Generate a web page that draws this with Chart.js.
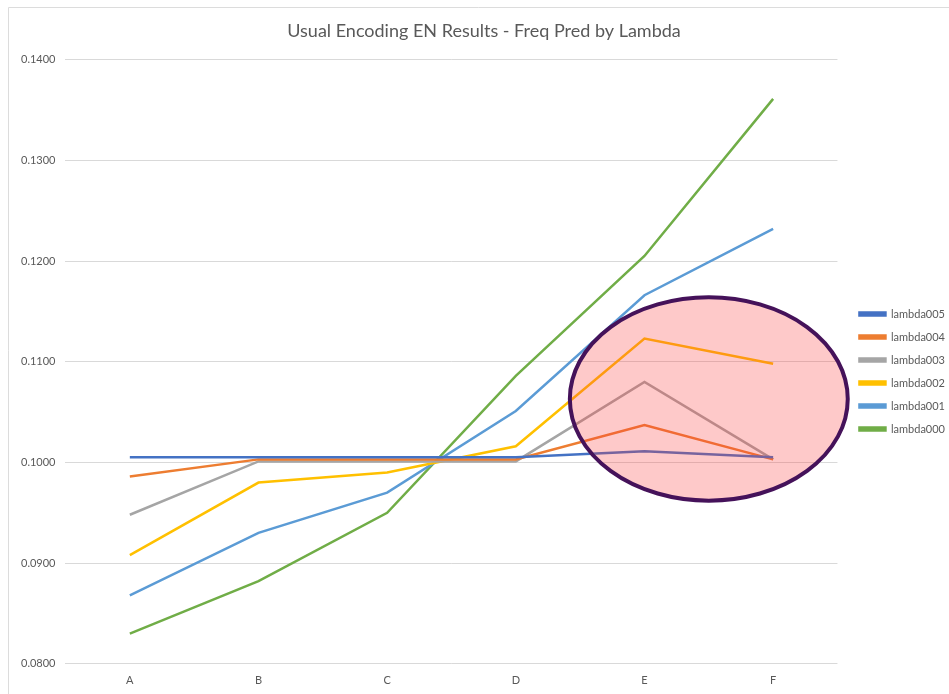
<!DOCTYPE html>
<html>
<head>
<meta charset="utf-8">
<title>Usual Encoding EN Results - Freq Pred by Lambda</title>
<script src="https://cdn.jsdelivr.net/npm/chart.js@4.4.1/dist/chart.umd.min.js"></script>
<style>
  html, body { margin: 0; padding: 0; background: #fff; }
  #wrap { position: relative; width: 949px; height: 694px; }
</style>
</head>
<body>
<div id="wrap"><canvas id="my-chart" width="949" height="694"></canvas></div>
<script>
"use strict";

const categories = ["A", "B", "C", "D", "E", "F"];
const seriesNames = ["lambda005", "lambda004", "lambda003", "lambda002", "lambda001", "lambda000"];
const seriesColors = ["#4472C4", "#ED7D31", "#A5A5A5", "#FFC000", "#5B9BD5", "#70AD47"];

const lambda005 = [0.1005, 0.1005, 0.1005, 0.1005, 0.1011, 0.1005];
const lambda004 = [0.0986, 0.1003, 0.1003, 0.1003, 0.1037, 0.1003];
const lambda003 = [0.0948, 0.1001, 0.1001, 0.1001, 0.1080, 0.1003];
const lambda002 = [0.0908, 0.0980, 0.0990, 0.1016, 0.1123, 0.1098];
const lambda001 = [0.0868, 0.0930, 0.0970, 0.1051, 0.1166, 0.1232];
const lambda000 = [0.0830, 0.0882, 0.0950, 0.1086, 0.1205, 0.1361];

const yTicks = [0.08, 0.09, 0.10, 0.11, 0.12, 0.13, 0.14];

// highlight ellipse, in data units (x = category index, y = value)
const highlight = { x: 4.5, y: 0.1063, rx: 1.08, ry: 0.0101 };

const allSeries = [lambda005, lambda004, lambda003, lambda002, lambda001, lambda000];

const datasets = [];
for (let i = 0; i < allSeries.length; i++) {
  datasets.push({
    label: seriesNames[i],
    data: allSeries[i],
    borderColor: seriesColors[i],
    backgroundColor: seriesColors[i],
    borderWidth: 2.5,
    pointRadius: 0,
    tension: 0
  });
}

// white background and the thin frame of the pasted chart
const framePlugin = {
  id: "frame",
  afterLayout(chart) {
    // excel leaves a wider gap between plot and legend, and centres lower
    const lg = chart.legend;
    lg.left += 10;
    lg.right += 10;
    lg.top += 19;
    lg.bottom += 19;
    // title is centred on the whole frame, a bit right of ours
    chart.titleBlock.left += 6;
    chart.titleBlock.right += 6;
  },
  beforeDraw(chart) {
    const c = chart.ctx;
    c.save();
    c.fillStyle = "#fff";
    c.fillRect(0, 0, chart.width, chart.height);
    c.strokeStyle = "#dcdcdc";
    c.lineWidth = 1;
    c.beginPath();
    c.moveTo(8.5, chart.height);
    c.lineTo(8.5, 7.5);
    c.lineTo(chart.width, 7.5);
    c.stroke();
    c.restore();
  }
};

// the pink circle drawn on top of the lines
const ellipsePlugin = {
  id: "highlight",
  afterDatasetsDraw(chart) {
    const xs = chart.scales.x;
    const ys = chart.scales.y;
    const cx = xs.getPixelForValue(highlight.x);
    const cy = ys.getPixelForValue(highlight.y);
    const rx = Math.abs(xs.getPixelForValue(highlight.x + highlight.rx) - cx);
    const ry = Math.abs(ys.getPixelForValue(highlight.y + highlight.ry) - cy);
    const c = chart.ctx;
    c.save();
    c.beginPath();
    c.ellipse(cx, cy, rx, ry, 0, 0, Math.PI * 2);
    c.fillStyle = "rgba(250, 60, 60, 0.28)";
    c.fill();
    c.lineWidth = 4;
    c.strokeStyle = "#45125A";
    c.stroke();
    c.restore();
  }
};

const ctx = document.getElementById("my-chart");
const myChart = new Chart(ctx, {
  type: "line",
  data: { labels: categories, datasets: datasets },
  plugins: [framePlugin, ellipsePlugin],
  options: {
    responsive: false,
    animation: false,
    layout: { padding: { left: 11, right: 4, top: 8, bottom: -3 } },
    plugins: {
      title: {
        display: true,
        text: "Usual Encoding EN Results - Freq Pred by Lambda",
        color: "#595959",
        font: { family: "Lato", size: 18, weight: "normal" },
        padding: { top: 12, bottom: 18 }
      },
      legend: {
        position: "right",
        labels: {
          color: "#595959",
          font: { family: "Lato", size: 11 },
          boxWidth: 26,
          boxHeight: 3,
          padding: 12
        }
      },
      tooltip: { enabled: false }
    },
    scales: {
      x: {
        offset: true,
        grid: { display: false, drawTicks: false },
        border: { display: false },
        ticks: { color: "#595959", font: { family: "Lato", size: 11 }, padding: 10 }
      },
      y: {
        min: 0.08,
        max: 0.14,
        afterBuildTicks(scale) {
          scale.ticks = yTicks.map(v => ({ value: v }));
        },
        grid: { color: "#d9d9d9", drawTicks: false },
        border: { display: false },
        ticks: {
          color: "#595959",
          font: { family: "Lato", size: 11 },
          padding: 10,
          callback: v => Number(v).toFixed(4)
        }
      }
    }
  }
});
</script>
</body>
</html>
